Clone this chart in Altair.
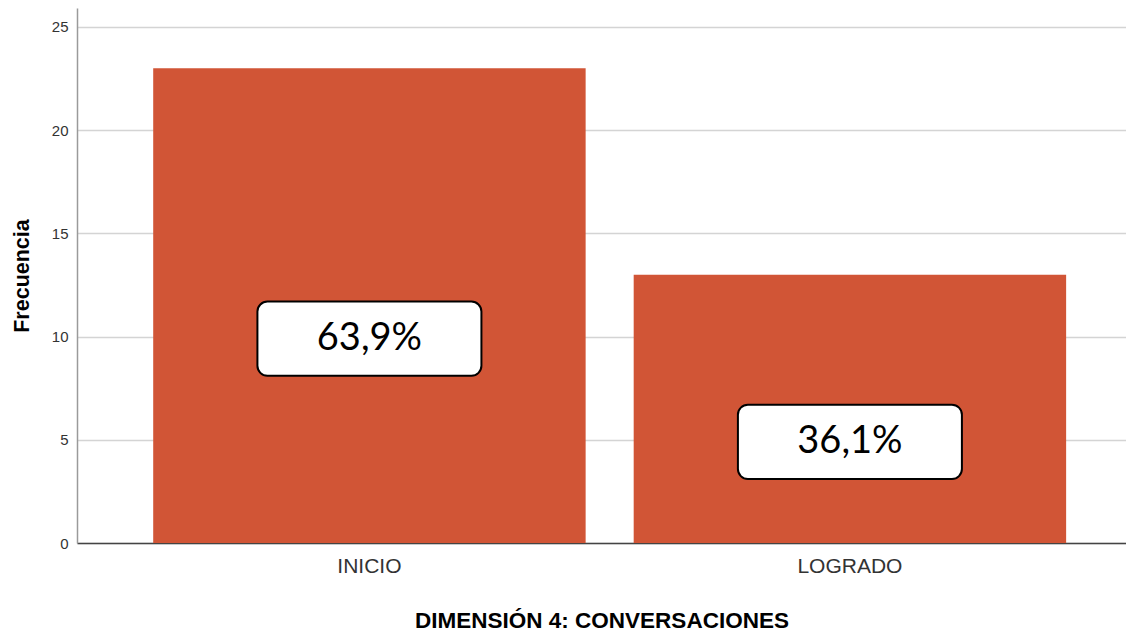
import altair as alt
import pandas as pd

categorias = ["INICIO", "LOGRADO"]
frecuencias = [23, 13]
porcentajes = ["63,9%", "36,1%"]
caja_inferior = [8.1, 3.1]
caja_superior = [11.7, 6.7]
ticks_y = [0, 5, 10, 15, 20, 25]

df = pd.DataFrame({
    "categoria": categorias,
    "frecuencia": frecuencias,
    "porcentaje": porcentajes,
    "caja_inf": caja_inferior,
    "caja_sup": caja_superior,
})
df["centro"] = (df["caja_inf"] + df["caja_sup"]) / 2

xscale = alt.Scale(domain=categorias, paddingInner=0.1, paddingOuter=0.1416, align=0.56)
yscale = alt.Scale(domain=[0, 25.92], nice=False, zero=True)

base = alt.Chart(df)

bars = base.mark_bar(color="#D15536").encode(
    x=alt.X("categoria:N", scale=xscale, sort=categorias,
            axis=alt.Axis(title="DIMENSIÓN 4: CONVERSACIONES", labelAngle=0, ticks=False,
                          labelFont="Liberation Sans", labelFontSize=21, labelColor="#333333",
                          labelPadding=12, domainColor="#444444", domainWidth=1.5,
                          titleFont="Liberation Sans", titleFontSize=22.5, titleFontWeight="bold",
                          titleColor="#000000", titlePadding=33, grid=False)),
    y=alt.Y("frecuencia:Q", scale=yscale,
            axis=alt.Axis(title="Frecuencia", values=ticks_y, ticks=False,
                          labelFont="Liberation Sans", labelFontSize=15, labelColor="#333333",
                          labelPadding=9, domainColor="#9a9a9a", domainWidth=1.5,
                          gridColor="#d4d4d4", gridWidth=1.5,
                          titleFont="Liberation Sans", titleFontSize=21.5, titleFontWeight="bold",
                          titleColor="#000000", titlePadding=18)),
)

boxes = base.mark_bar(width=224, cornerRadius=10, fill="white", stroke="black",
                      strokeWidth=2).encode(
    x=alt.X("categoria:N", scale=xscale, sort=categorias),
    y=alt.Y("caja_inf:Q", scale=yscale),
    y2="caja_sup:Q",
)

text = base.mark_text(font="Lato", fontSize=38, color="#000000", baseline="middle").encode(
    x=alt.X("categoria:N", scale=xscale, sort=categorias),
    y=alt.Y("centro:Q", scale=yscale),
    text="porcentaje:N",
)

chart = alt.layer(bars, boxes, text).properties(
    width=1049, height=535,
    padding={"left": 69, "top": 0, "right": 0, "bottom": 90},
    autosize="none",
).configure_view(stroke=None)

chart.save("out.html", embed_options={"renderer": "svg", "actions": False})
